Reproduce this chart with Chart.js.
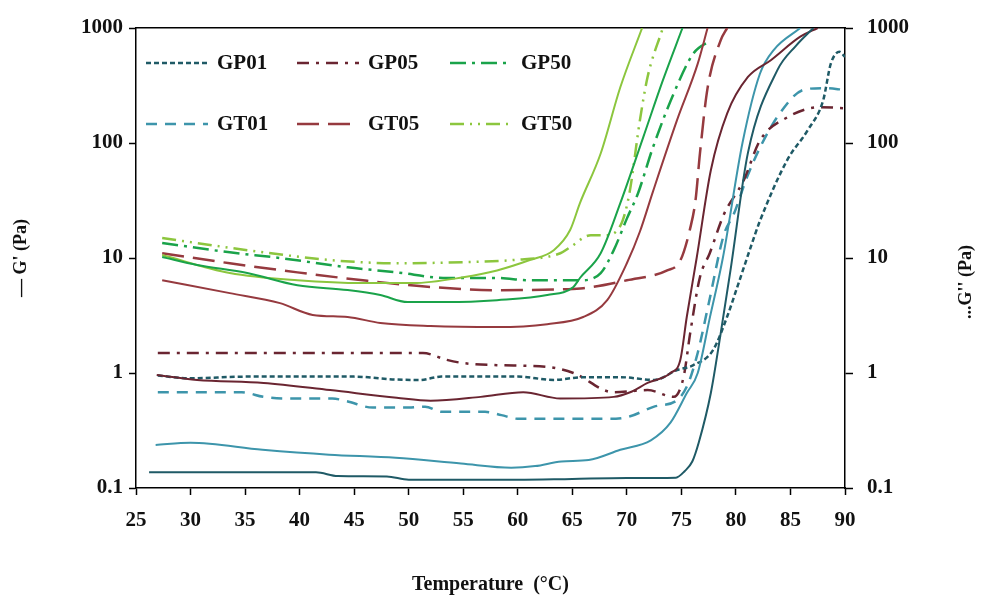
<!DOCTYPE html>
<html>
<head>
<meta charset="utf-8">
<script src="https://cdn.jsdelivr.net/npm/chart.js@4"></script>
<style>
  html, body { margin: 0; padding: 0; background: #fff; }
</style>
</head>
<body>
<canvas id="rheo" width="987" height="599"></canvas>
<script>
// axis ticks
const tempTicks = [25, 30, 35, 40, 45, 50, 55, 60, 65, 70, 75, 80, 85, 90];
const decadeTicks = [0.1, 1, 10, 100, 1000];

// G' (solid) and G'' (dashed): temperature in °C, modulus in Pa
const gp01StorageT = [26.2, 30, 35, 41.5, 43.5, 48, 50, 55, 60, 65, 70, 74.5, 75.3, 76, 76.6, 77.7, 78.6, 79.5, 81.1, 83.8, 85.5, 87.1];
const gp01Storage = [0.137, 0.137, 0.137, 0.137, 0.127, 0.126, 0.118, 0.118, 0.118, 0.12, 0.122, 0.123, 0.14, 0.17, 0.25, 0.67, 2.2, 7.8, 82, 430, 700, 1000];
const gp01LossT = [27, 30, 35, 45, 48.5, 51, 53, 60, 63.3, 66, 69.4, 72.5, 74.6, 76.1, 77.9, 79.2, 80.1, 81.3, 82.2, 84.7, 86.6, 88, 88.7, 89.5, 90];
const gp01Loss = [0.95, 0.9, 0.93, 0.93, 0.88, 0.87, 0.93, 0.93, 0.87, 0.92, 0.92, 0.87, 1.06, 1.17, 1.58, 3.1, 5.5, 12, 21, 71, 130, 235, 490, 620, 560];

const gt01StorageT = [26.8, 30, 36.6, 42.7, 48.8, 54.8, 59.4, 61.6, 64, 66.5, 69.4, 72.2, 74, 75.5, 76.5, 77.6, 78.8, 80.6, 82.2, 83.5, 85.9];
const gt01Storage = [0.237, 0.247, 0.215, 0.195, 0.183, 0.163, 0.15, 0.155, 0.17, 0.175, 0.215, 0.26, 0.37, 0.67, 1.0, 3, 10, 100, 400, 650, 1000];
const gt01LossT = [27, 34.7, 36.7, 39, 43, 44.3, 46.7, 50, 51.5, 53, 57, 58.5, 60, 65, 69, 70.3, 72.5, 74.6, 75.6, 76.5, 77.5, 78.9, 79.8, 81, 82.3, 84, 86.2, 88, 90];
const gt01Loss = [0.68, 0.68, 0.62, 0.6, 0.6, 0.57, 0.5, 0.5, 0.51, 0.46, 0.46, 0.43, 0.4, 0.4, 0.4, 0.42, 0.51, 0.58, 0.8, 1.5, 4, 16, 24, 50, 95, 180, 290, 300, 290];

const gp05StorageT = [26.9, 30.6, 36.7, 42.8, 48.9, 52, 56.6, 60.5, 63.9, 68.8, 70.3, 71.9, 74, 74.9, 75.5, 76.4, 77.7, 79.2, 81.1, 83.2, 85.9, 87.5];
const gp05Storage = [0.96, 0.87, 0.82, 0.71, 0.61, 0.575, 0.62, 0.68, 0.6, 0.62, 0.68, 0.82, 1.0, 1.3, 3.1, 10, 58, 181, 375, 525, 840, 1000];
const gp05LossT = [27, 35, 45, 51.3, 53.5, 55, 58.1, 62.7, 65.1, 68.8, 71.9, 74.3, 75.2, 75.8, 76.7, 77.6, 78.9, 80.7, 82.2, 84.7, 87.8, 90];
const gp05Loss = [1.49, 1.49, 1.49, 1.49, 1.3, 1.22, 1.17, 1.13, 1.0, 0.68, 0.71, 0.62, 0.92, 2.2, 6.8, 11, 24, 47, 105, 167, 205, 200];

const gt05StorageT = [27.4, 33.6, 38.2, 41.2, 44.4, 47.4, 52, 58.1, 62.7, 66, 68.2, 70, 71.2, 72.4, 74.6, 76.5, 77.4];
const gt05Storage = [6.4, 4.95, 4.05, 3.2, 3.07, 2.72, 2.56, 2.51, 2.66, 3.07, 4.3, 9, 17, 38, 158, 490, 1000];
const gt05LossT = [27.4, 33.6, 39.8, 45.8, 52, 58.1, 64.2, 66, 70, 73.7, 74.9, 75.8, 76.3, 76.7, 77.4, 78.6, 79.2];
const gt05Loss = [11, 9, 7.5, 6.4, 5.6, 5.25, 5.35, 5.45, 6.4, 7.8, 9.5, 18, 32, 81, 300, 780, 1000];

const gp50StorageT = [27.4, 30.6, 35.2, 39.8, 44.4, 47.4, 49.9, 53.5, 58.1, 62.7, 65.1, 65.7, 67.6, 69.4, 71.5, 73.3, 75.1];
const gp50Storage = [10.2, 8.7, 7.4, 5.8, 5.26, 4.76, 4.14, 4.14, 4.3, 4.76, 5.6, 6.7, 11, 30, 112, 350, 1000];
const gp50LossT = [27.4, 33.6, 38.2, 44.4, 48.9, 53.5, 58.1, 61.1, 65.7, 67.6, 68.8, 70, 71, 72.4, 74.3, 76.1, 77.7];
const gp50Loss = [13.5, 11.2, 10, 8.3, 7.5, 6.7, 6.7, 6.4, 6.4, 7.4, 11.7, 22, 36, 92, 270, 600, 780];

const gt50StorageT = [27.4, 33.6, 39.8, 45.8, 50.4, 55, 58.1, 61.1, 63.3, 64.8, 65.7, 67.6, 69.4, 71.4];
const gt50Storage = [10.6, 7.4, 6.4, 6.05, 6.05, 6.8, 7.8, 9.6, 11.7, 17.5, 30, 81, 305, 1000];
const gt50LossT = [27.4, 35.2, 42.8, 48.9, 55, 59.6, 63.9, 64.8, 66.7, 68, 69.4, 70.2, 71.2, 71.9, 73.3];
const gt50Loss = [14.9, 11.7, 9.6, 9, 9.2, 9.6, 11, 12.4, 15.8, 15.8, 19, 35, 158, 375, 1000];

const samples = [
  { name: "GP01", storageT: gp01StorageT, storage: gp01Storage, lossT: gp01LossT, loss: gp01Loss },
  { name: "GP05", storageT: gp05StorageT, storage: gp05Storage, lossT: gp05LossT, loss: gp05Loss },
  { name: "GP50", storageT: gp50StorageT, storage: gp50Storage, lossT: gp50LossT, loss: gp50Loss },
  { name: "GT01", storageT: gt01StorageT, storage: gt01Storage, lossT: gt01LossT, loss: gt01Loss },
  { name: "GT05", storageT: gt05StorageT, storage: gt05Storage, lossT: gt05LossT, loss: gt05Loss },
  { name: "GT50", storageT: gt50StorageT, storage: gt50Storage, lossT: gt50LossT, loss: gt50Loss },
];

const styles = {
  GP01: { color: "#1f5a66", dash: [5, 3] },
  GP05: { color: "#6a2531", dash: [12, 7, 3, 7] },
  GP50: { color: "#1aa34a", dash: [16, 6, 3, 6] },
  GT01: { color: "#3d95ab", dash: [11, 8] },
  GT05: { color: "#963a3f", dash: [22, 9] },
  GT50: { color: "#8cc63e", dash: [14, 6, 2, 6, 2, 6] },
};

const serif = "'Liberation Serif', 'Times New Roman', serif";
const tickFont = { family: serif, size: 21, weight: "bold" };
const titleFont = { family: serif, size: 18, weight: "bold" };

function pairs(ts, vs) {
  return ts.map((t, i) => ({ x: t, y: vs[i] }));
}

const datasets = [];
samples.forEach((s) => {
  datasets.push({
    label: s.name + " G'",
    data: pairs(s.storageT, s.storage),
    borderColor: styles[s.name].color,
    borderWidth: 2,
    pointRadius: 0,
    cubicInterpolationMode: "monotone",
    xAxisID: "x",
    yAxisID: "y",
  });
});
samples.forEach((s) => {
  datasets.push({
    label: s.name + " G''",
    data: pairs(s.lossT, s.loss),
    borderColor: styles[s.name].color,
    borderWidth: 2.5,
    borderDash: styles[s.name].dash,
    pointRadius: 0,
    cubicInterpolationMode: "monotone",
    xAxisID: "x",
    yAxisID: "y",
  });
});

// legend inside the plot: two rows of three, line sample then name
const legendBox = { rowY: [35, 96], colX: [10, 161, 314], lineLen: 62, textOffset: 71 };
const insideLegend = {
  id: "insideLegend",
  afterDraw(chart) {
    const { ctx, chartArea } = chart;
    ctx.save();
    samples.forEach((s, i) => {
      const x = chartArea.left + legendBox.colX[i % 3];
      const y = chartArea.top + legendBox.rowY[Math.floor(i / 3)];
      ctx.strokeStyle = styles[s.name].color;
      ctx.lineWidth = 2.5;
      ctx.setLineDash(styles[s.name].dash);
      ctx.beginPath();
      ctx.moveTo(x, y);
      ctx.lineTo(x + legendBox.lineLen, y);
      ctx.stroke();
      ctx.setLineDash([]);
      ctx.fillStyle = "#111";
      ctx.font = "bold 21px " + serif;
      ctx.textBaseline = "middle";
      ctx.textAlign = "left";
      ctx.fillText(s.name, x + legendBox.textOffset, y + 1);
    });
    ctx.restore();
  },
};

// right axis title reads bottom to top, like the left one
const rightTitle = {
  id: "rightTitle",
  afterDraw(chart) {
    const { ctx } = chart;
    ctx.save();
    ctx.translate(966, 282);
    ctx.rotate(-Math.PI / 2);
    ctx.fillStyle = "#111";
    ctx.font = "bold 18px " + serif;
    ctx.textAlign = "center";
    ctx.textBaseline = "middle";
    ctx.fillText("...G'' (Pa)", 0, 0);
    ctx.restore();
  },
};

const setDecades = (scale) => {
  scale.ticks = decadeTicks.map((v) => ({ value: v }));
};

new Chart(document.getElementById("rheo"), {
  type: "line",
  data: { datasets },
  options: {
    responsive: false,
    animation: false,
    devicePixelRatio: 1,
    layout: { padding: { top: 28, left: 0, right: 0, bottom: 0 } },
    plugins: {
      legend: { display: false },
      tooltip: { enabled: false },
    },
    scales: {
      x: {
        type: "linear",
        position: "bottom",
        min: 25,
        max: 90,
        afterBuildTicks: (scale) => {
          scale.ticks = tempTicks.map((v) => ({ value: v }));
        },
        afterFit: (scale) => {
          scale.height = 111;
        },
        ticks: { font: tickFont, color: "#111", padding: 13, maxRotation: 0 },
        grid: { drawOnChartArea: false, tickLength: 7, tickColor: "#000", tickWidth: 1.5 },
        border: { color: "#000", width: 1.5 },
        title: {
          display: true,
          text: "Temperature  (°C)",
          font: { family: serif, size: 20, weight: "bold" },
          color: "#111",
          padding: { top: 0, bottom: 2 },
        },
      },
      xTop: {
        type: "linear",
        position: "top",
        min: 25,
        max: 90,
        ticks: { display: false },
        grid: { display: false },
        border: { color: "#000", width: 1.5 },
        afterFit: (scale) => {
          scale.height = 0;
        },
      },
      y: {
        type: "logarithmic",
        position: "left",
        min: 0.1,
        max: 1000,
        afterBuildTicks: setDecades,
        afterFit: (scale) => {
          scale.width = 136;
        },
        ticks: { font: tickFont, color: "#111", padding: 6, callback: (v) => String(v) },
        grid: { drawOnChartArea: false, tickLength: 7, tickColor: "#000", tickWidth: 1.5 },
        border: { color: "#000", width: 1.5 },
        title: {
          display: true,
          text: "— G' (Pa)",
          font: titleFont,
          color: "#111",
          padding: { top: 11, bottom: 0 },
        },
      },
      y2: {
        type: "logarithmic",
        position: "right",
        min: 0.1,
        max: 1000,
        afterBuildTicks: setDecades,
        afterFit: (scale) => {
          scale.width = 142;
        },
        ticks: { font: tickFont, color: "#111", padding: 14, callback: (v) => String(v) },
        grid: { drawOnChartArea: false, tickLength: 8, tickColor: "#000", tickWidth: 1.5 },
        border: { color: "#000", width: 1.5 },
      },
    },
  },
  plugins: [insideLegend, rightTitle],
});
</script>
</body>
</html>
